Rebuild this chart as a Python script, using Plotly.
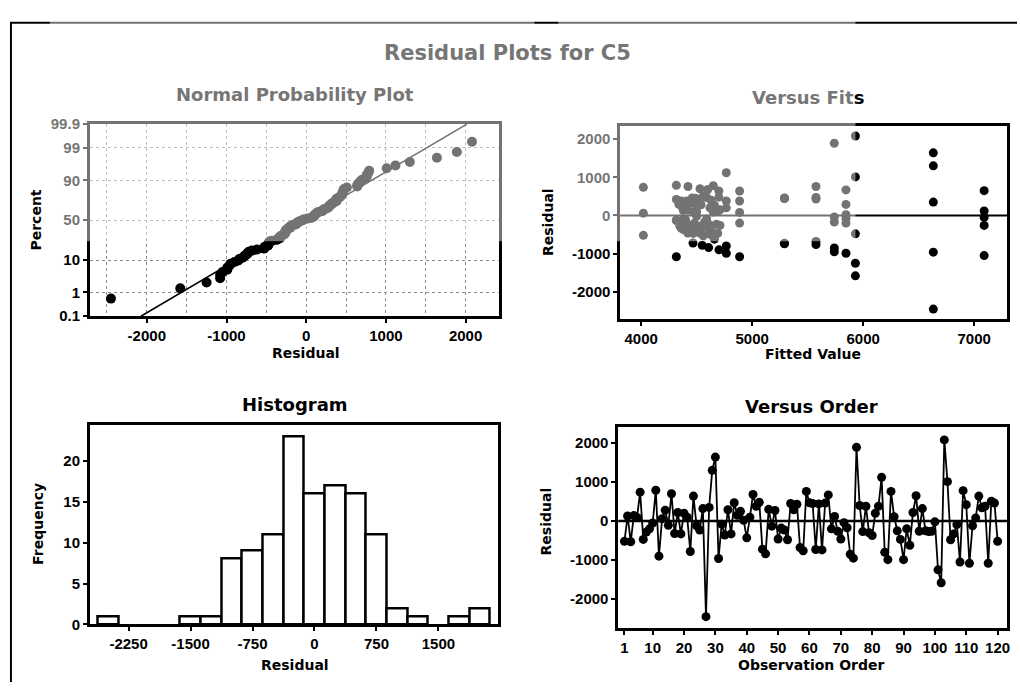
import plotly.graph_objects as go
from statistics import NormalDist, mean, stdev

# Residuals of the C5 model, in observation order
residuals = [
    -520, 130, -530, 140, 90, 740, -470, -280, -200, -50,
    790, -900, 60, 280, -110, 700, -320, 220, -330, 200,
    100, -780, 640, -120, -230, 320, -2450, 350, 1300, 1640,
    -960, -80, -360, 290, -330, 470, 150, 250, 20, -430,
    100, 680, 380, 480, -720, -840, 300, -130, 270, -460,
    -180, -230, -480, 450, 290, 430, -680, -760, 760, 470,
    450, -730, 440, -740, 460, 670, -200, 120, -260, -460,
    -40, -170, -850, -950, 1890, 400, -270, 380, -300, -370,
    200, 380, 1120, -800, -990, 760, 110, -250, -470, -990,
    -200, -620, 220, 650, -260, 320, -250, -270, -260, -20,
    -1250, -1580, 2080, 1010, -480, -330, -90, -1050, 780, 420,
    -1080, -120, 80, 640, 340, 380, -1080, 510, 460, -520,
]

# Fitted values for the same observations
fitted = [
    4020, 4380, 4560, 4420, 4650, 4020, 4690, 4350, 4480, 7090,
    4317, 4701, 4020, 4540, 4400, 4530, 4600, 4370, 4460, 4620,
    4500, 4550, 4887, 4317, 4680, 4440, 6632, 6632, 6632, 6632,
    6632, 5845, 4520, 5845, 4360, 4590, 4710, 4410, 5845, 4640,
    4470, 4600, 4360, 4700, 4467, 4608, 4510, 4317, 4660, 4420,
    4570, 4390, 4610, 4490, 4340, 5575, 5575, 5575, 5575, 5575,
    5291, 5291, 5291, 5291, 5291, 5845, 5845, 7090, 7090, 4530,
    5740, 5740, 5740, 5740, 5740, 4630, 4450, 4887, 4580, 4380,
    4767, 4767, 4767, 4767, 4767, 4422, 4690, 4430, 4470, 5845,
    4887, 4660, 4400, 7090, 4550, 4480, 4620, 4350, 4710, 4500,
    5930, 5930, 5930, 5930, 5930, 4440, 4590, 7090, 4650, 4317,
    4317, 4370, 4887, 4700, 4520, 4410, 4887, 4560, 4460, 4640,
]

order = list(range(1, len(residuals) + 1))

prob_ticks = [0.1, 1, 10, 50, 90, 99, 99.9]
prob_labels = ["0.1", "1", "10", "50", "90", "99", "99.9"]
resid_grid = [-2500, -2000, -1500, -1000, -500, 0, 500, 1000, 1500, 2000]
npp_ticks = [-2000, -1000, 0, 1000, 2000]
fit_ticks = [4000, 5000, 6000, 7000]
res_ticks = [-2000, -1000, 0, 1000, 2000]
hist_ticks = [-2250, -1500, -750, 0, 750, 1500]
freq_ticks = [0, 5, 10, 15, 20]
order_ticks = [1, 10, 20, 30, 40, 50, 60, 70, 80, 90, 100, 110, 120]

W, H = 1020, 690
FADED = "#767676"
nd = NormalDist()

# Normal probability plot: median ranks on a normal-score scale
n = len(residuals)
sorted_res = sorted(residuals)
scores = [nd.inv_cdf((i + 1 - 0.3) / (n + 0.4)) for i in range(n)]
mu, sd = mean(residuals), stdev(residuals)
z_lo, z_hi = nd.inv_cdf(0.001), nd.inv_cdf(0.999)

TICKFONT = dict(family="Liberation Sans, Arial, sans-serif", size=15, color="black",
                weight="bold")
TITLEFONT = "DejaVu Sans, Verdana, sans-serif"


def px(x0, x1):
    return [x0 / W, x1 / W]


def py(y_top, y_bot):
    return [1 - y_bot / H, 1 - y_top / H]


def labels(vals):
    return [str(v) for v in vals]


def frame_axis(**kw):
    base = dict(
        showline=True, mirror=True, linecolor="black", linewidth=2.5,
        ticks="outside", ticklen=4, tickwidth=1.5, tickcolor="black",
        tickfont=TICKFONT, showgrid=False, zeroline=False,
    )
    base.update(kw)
    return base


fig = go.Figure()

# Normal probability plot
fig.add_trace(go.Scatter(
    x=[mu + sd * z_lo, mu + sd * z_hi], y=[z_lo, z_hi], mode="lines",
    line=dict(color="black", width=1.5), xaxis="x", yaxis="y",
    showlegend=False, hoverinfo="skip",
))
fig.add_trace(go.Scatter(
    x=sorted_res, y=scores, mode="markers",
    marker=dict(color="black", size=10), xaxis="x", yaxis="y", showlegend=False,
))

# Versus fits
fig.add_trace(go.Scatter(
    x=fitted, y=residuals, mode="markers",
    marker=dict(color="black", size=9), xaxis="x2", yaxis="y2", showlegend=False,
))

# Histogram
fig.add_trace(go.Histogram(
    x=residuals, xbins=dict(start=-2625, end=2125, size=250),
    marker=dict(color="white", line=dict(color="black", width=2.5)),
    xaxis="x3", yaxis="y3", showlegend=False,
))

# Versus order
fig.add_trace(go.Scatter(
    x=order, y=residuals, mode="lines+markers",
    line=dict(color="black", width=1.8),
    marker=dict(color="black", size=9), xaxis="x4", yaxis="y4", showlegend=False,
))

grid = dict(gridcolor="#8a8a8a", gridwidth=1, griddash="dot")

fig.update_layout(
    width=W, height=H, margin=dict(l=0, r=0, t=0, b=0),
    paper_bgcolor="white", plot_bgcolor="white", bargap=0,
    xaxis=frame_axis(
        domain=px(90, 500), range=[-2716, 2413], anchor="y",
        tickvals=npp_ticks, ticktext=labels(npp_ticks),
        minor=dict(tickvals=resid_grid, showgrid=True, ticks="", **grid),
    ),
    yaxis=frame_axis(
        domain=py(118, 315), range=[z_lo, z_hi], anchor="x",
        tickvals=[nd.inv_cdf(p / 100) for p in prob_ticks], ticktext=prob_labels,
        showgrid=True, **grid,
    ),
    xaxis2=frame_axis(domain=px(622, 1010), range=[3811, 7296], anchor="y2",
                      tickvals=fit_ticks, ticktext=labels(fit_ticks)),
    yaxis2=frame_axis(domain=py(120, 318), range=[-2714, 2341], anchor="x2",
                      tickvals=res_ticks, ticktext=labels(res_ticks)),
    xaxis3=frame_axis(domain=px(90, 499), range=[-2720, 2215], anchor="y3",
                      tickvals=hist_ticks, ticktext=labels(hist_ticks)),
    yaxis3=frame_axis(domain=py(427, 631), range=[0, 24.3], anchor="x3",
                      tickvals=freq_ticks, ticktext=labels(freq_ticks)),
    xaxis4=frame_axis(domain=px(620, 1010), range=[-1, 123], anchor="y4",
                      tickvals=order_ticks, ticktext=labels(order_ticks)),
    yaxis4=frame_axis(domain=py(429, 635), range=[-2750, 2400], anchor="x4",
                      tickvals=res_ticks, ticktext=labels(res_ticks)),
)

# Zero reference lines
fig.add_shape(type="line", xref="x2 domain", yref="y2", x0=0, x1=1, y0=0, y1=0,
              line=dict(color="black", width=2))
fig.add_shape(type="line", xref="x4 domain", yref="y4", x0=0, x1=1, y0=0, y1=0,
              line=dict(color="black", width=2.5))

# Page border
fig.add_shape(type="line", xref="paper", yref="paper", x0=10 / W, x1=1, y0=1 - 14 / H, y1=1 - 14 / H,
              line=dict(color="black", width=2))
fig.add_shape(type="line", xref="paper", yref="paper", x0=11 / W, x1=11 / W, y0=0, y1=1 - 14 / H,
              line=dict(color="black", width=2))


def text(s, x, y, size, angle=0, color="black"):
    fig.add_annotation(
        text=f"<b>{s}</b>", x=x / W, y=1 - y / H,
        xref="paper", yref="paper", showarrow=False, textangle=angle,
        font=dict(family=TITLEFONT, size=size, color=color),
        xanchor="center", yanchor="middle",
    )


text("Residual Plots for C5", 509, 45, 21, color=FADED)
text("Normal Probability Plot", 296, 88, 18, color=FADED)
text(f"<span style='color:{FADED}'>Versus Fit</span>s", 810, 91, 18)
text("Histogram", 296, 406, 18)
text("Versus Order", 814, 408, 18)

text("Residual", 307, 353, 14)
text("Fitted Value", 815, 354, 14)
text("Residual", 296, 673, 14)
text("Observation Order", 814, 673, 14)
text("Percent", 36, 216, 14, angle=-90)
text("Residual", 549, 218, 14, angle=-90)
text("Frequency", 38, 528, 14, angle=-90)
text("Residual", 548, 525, 14, angle=-90)

# Faded band across the upper part of the sheet
for x0, x1 in [(50, 536), (560, 858)]:
    fig.add_shape(type="rect", xref="paper", yref="paper", layer="above",
                  x0=x0 / W, x1=x1 / W, y0=1 - 238 / H, y1=1,
                  fillcolor="white", opacity=0.45, line=dict(width=0))

fig.write_html("out.html")
